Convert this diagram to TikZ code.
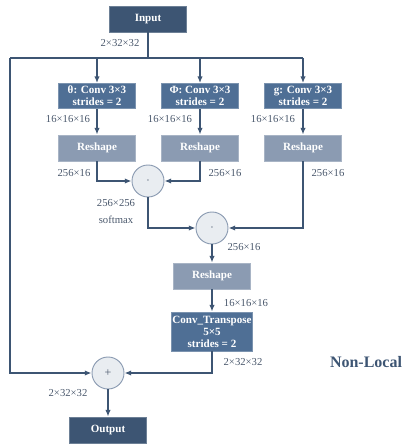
\documentclass[tikz,border=0pt]{standalone}
\usepackage{fontspec}
\setmainfont{Liberation Serif}
\usetikzlibrary{arrows.meta}
\definecolor{dark}{HTML}{3D5573}
\definecolor{mid}{HTML}{4F6F95}
\definecolor{light}{HTML}{8B9BB2}
\definecolor{circ}{HTML}{E9EDF1}
\definecolor{lbl}{HTML}{4A586C}
\begin{document}
\begin{tikzpicture}[x=0.75pt,y=-0.75pt,
  boxbase/.style={rectangle, draw=#1!75!white, line width=0.6pt, fill=#1, text=white,
    font=\fontsize{8.3}{9}\selectfont\bfseries, align=center, inner sep=1pt,
    minimum width=57.75pt},
  dbox/.style={boxbase=dark, minimum height=19.5pt},
  cbox/.style={boxbase=mid, minimum height=18.75pt},
  rbox/.style={boxbase=light, minimum height=19.5pt},
  opc/.style={circle, draw=light, line width=0.7pt, fill=circ, minimum size=24pt, inner sep=0pt,
    text=lbl, font=\fontsize{9}{9}\selectfont},
  lab/.style={text=lbl, font=\fontsize{8}{9}\selectfont, inner sep=0pt, align=center},
  ln/.style={draw=dark, line width=1.3pt},
  arr/.style={ln, -{Latex[length=5pt,width=4pt]}}
]
\useasboundingbox (0,0) rectangle (404,445);
% boxes
\node[dbox] (in) at (148,19) {Input};
\node[cbox] (c1) at (97,96) {θ: Conv 3×3\\strides = 2};
\node[cbox] (c2) at (200,96) {Φ: Conv 3×3\\strides = 2};
\node[cbox] (c3) at (303,96) {g: Conv 3×3\\strides = 2};
\node[rbox] (r1) at (97,148) {Reshape};
\node[rbox] (r2) at (200,148) {Reshape};
\node[rbox] (r3) at (303,148) {Reshape};
\node[opc] (d1) at (148,181) {$\cdot$};
\node[opc] (d2) at (212,228) {$\cdot$};
\node[rbox] (r4) at (212,276) {Reshape};
\node[boxbase=mid, minimum width=60.75pt, minimum height=29.25pt] (ct) at (212,331.5) {Conv\_Transpose\\5×5\\strides = 2};
\node[opc] (pl) at (108,373) {+};
\node[dbox] (out) at (108,430) {Output};
% junctions
\coordinate (sp) at (148,58);
\coordinate (jl) at (10,58);
\coordinate (jr) at (303,58);
% connectors
\draw[ln] (in.south) -- (sp);
\draw[ln] (jl) -- (jr);
\draw[arr] (c1.north |- sp) -- (c1.north);
\draw[arr] (c2.north |- sp) -- (c2.north);
\draw[arr] (jr) -- (c3.north);
\draw[arr] (c1) -- (r1);
\draw[arr] (c2) -- (r2);
\draw[arr] (c3) -- (r3);
\draw[arr] (r1.south) |- (d1.west);
\draw[arr] (r2.south) |- (d1.east);
\draw[arr] (d1.south) |- (d2.west);
\draw[arr] (r3.south) |- (d2.east);
\draw[arr] (d2) -- (r4);
\draw[arr] (r4) -- (ct);
\draw[arr] (ct.south) |- (pl.east);
\draw[arr] (jl) |- (pl.west);
\draw[arr] (pl) -- (out);
% labels
\node[lab] (l0) at (120,43) {2×32×32};
\node[lab] (l1) at (68,119) {16×16×16};
\node[lab] (l2) at (170,119) {16×16×16};
\node[lab] (l3) at (273,119) {16×16×16};
\node[lab] (l4) at (74,173) {256×16};
\node[lab] (l5) at (225,173) {256×16};
\node[lab] (l6) at (328,173) {256×16};
\node[lab] (l7) at (116,203) {256×256};
\node[lab] (l8) at (116,220) {softmax};
\node[lab] (l9) at (244,247) {256×16};
\node[lab] (l10) at (246,303) {16×16×16};
\node[lab] (l11) at (243,362) {2×32×32};
\node[lab] (l12) at (68,393) {2×32×32};
\node[text=dark, font=\fontsize{12}{12}\selectfont\bfseries, inner sep=0pt] (nl) at (366,362) {Non-Local};
\end{tikzpicture}
\end{document}
